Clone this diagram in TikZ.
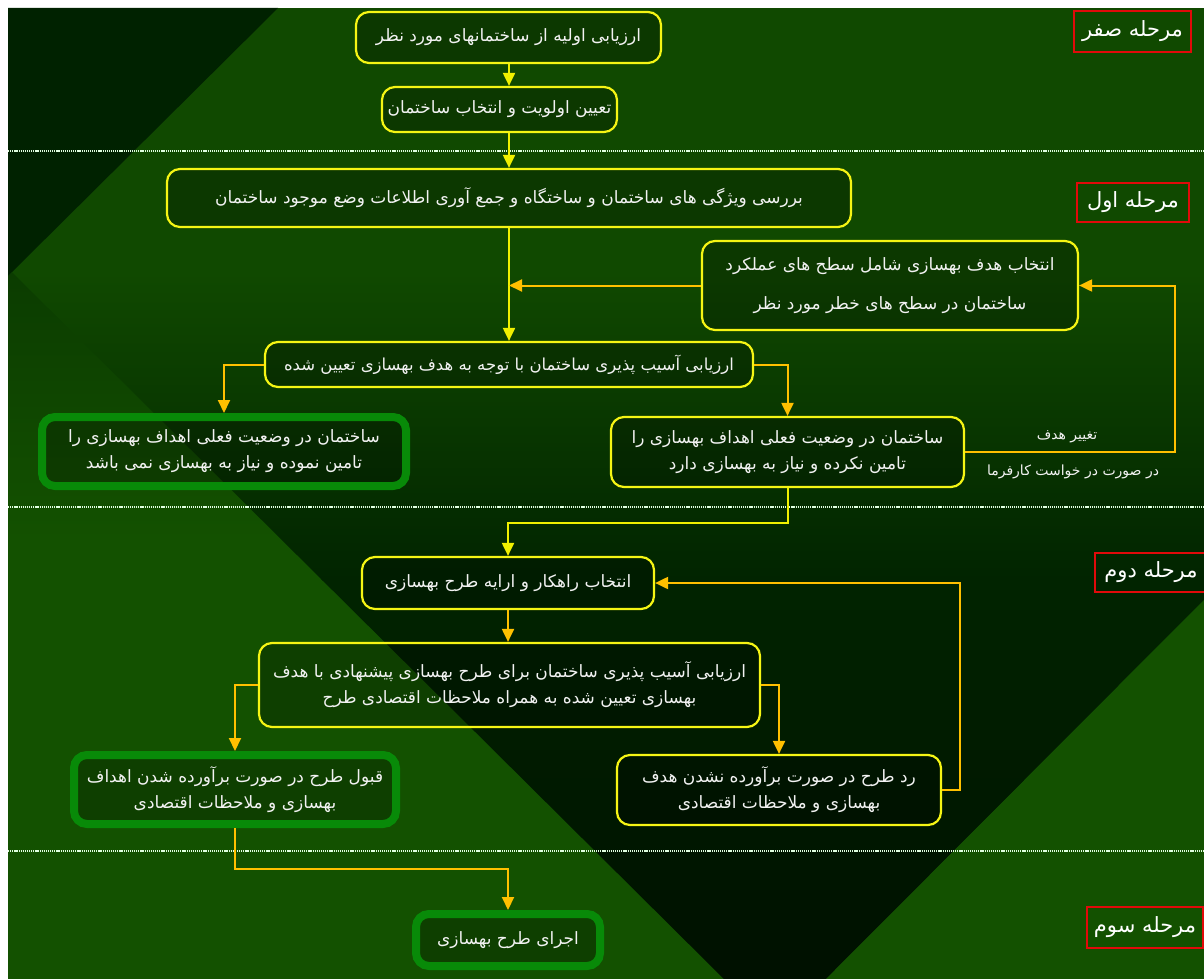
\documentclass[tikz,border=0pt]{standalone}
\usepackage{fontspec}
\usetikzlibrary{arrows.meta,calc}
\TeXXeTstate=1
\newfontfamily\fa[Script=Arabic]{DejaVu Sans}
\newcommand{\faline}[1]{\beginR #1\endR}

% background tones
\definecolor{bgbase}{RGB}{16,73,0}
\definecolor{bglight}{RGB}{19,81,0}
\definecolor{bgwedge}{RGB}{11,60,0}
\definecolor{bgcorner}{RGB}{0,34,0}
\definecolor{vdark}{RGB}{1,36,0}
\definecolor{vdarker}{RGB}{0,16,0}
% drawing tones
\definecolor{boxyellow}{RGB}{245,245,20}
\definecolor{boxgreen}{RGB}{8,138,8}
\definecolor{flowyellow}{RGB}{240,240,0}
\definecolor{flowgold}{RGB}{255,192,0}
\definecolor{stagered}{RGB}{225,10,10}
\definecolor{txt}{RGB}{242,242,242}

\tikzset{
  ybox/.style={draw=boxyellow, line width=2.2pt, rounded corners=13pt,
    fill=black, fill opacity=0.22, text opacity=1, text=txt,
    font=\fa\fontsize{17}{26}\selectfont, align=center, inner sep=0pt},
  gbox/.style={draw=boxgreen, line width=8pt, rounded corners=13pt,
    fill=black, fill opacity=0.22, text opacity=1, text=txt,
    font=\fa\fontsize{17}{26}\selectfont, align=center, inner sep=0pt},
  stage/.style={draw=stagered, line width=2pt, text=white,
    font=\fa\fontsize{21}{24}\selectfont, inner sep=0pt},
  note/.style={text=txt, font=\fa\fontsize{14}{16}\selectfont, inner sep=0pt},
  mainflow/.style={draw=flowyellow, line width=2pt,
    -{Triangle[length=13pt,width=12pt]}},
  sideflow/.style={draw=flowgold, line width=2pt,
    -{Triangle[length=13pt,width=12pt]}},
  separator/.style={draw=white!88!green, line width=2pt,
    dash pattern=on 1.2pt off 0.9pt},
}

\begin{document}
\begin{tikzpicture}[x=1pt,y=-1pt]
\useasboundingbox (0,0) rectangle (1204,979);
\fill[white] (0,0) rectangle (1204,979);

% ---------- background ----------
\fill[bgbase] (8,8) rectangle (1204,979);
\fill[bgcorner] (8,8) -- (278,8) -- (12,272) -- (8,276) -- cycle;
\begin{scope}
  \clip (8,276) -- (12,272) -- (724,979) -- (8,979) -- cycle;
  \shade[top color=bgwedge, bottom color=bglight] (8,272) rectangle (730,540);
  \fill[bglight] (8,539) rectangle (730,979);
\end{scope}
\begin{scope}
  \clip (12,272) -- (1204,272) -- (1204,600) -- (826,979) -- (724,979) -- cycle;
  \shade[top color=bgbase, bottom color=vdark] (0,272) rectangle (1204,580);
  \shade[top color=vdark, bottom color=vdarker] (0,579) rectangle (1204,979);
\end{scope}
\fill[bglight] (1204,600) -- (1204,979) -- (826,979) -- cycle;

% stage separators
\draw[separator] (8,151) -- (1204,151);
\draw[separator] (8,507) -- (1204,507);
\draw[separator] (8,851) -- (1204,851);

% ---------- guide coordinates ----------
\coordinate (spine) at (509,0);
\coordinate (loopD) at (1175,0);
\coordinate (loopH) at (960,0);
\coordinate (midGH) at (0,523);
\coordinate (midJL) at (0,869);

% ---------- stage 0 ----------
\node[ybox, minimum width=305pt, minimum height=51pt] (A) at (508.5,37.5)
  {\faline{ارزیابی اولیه از ساختمانهای مورد نظر}};
\node[ybox, minimum width=235pt, minimum height=45pt] (B) at (499.5,109.5)
  {\faline{تعیین اولویت و انتخاب ساختمان}};

% ---------- stage 1 ----------
\node[ybox, minimum width=684pt, minimum height=58pt] (C) at (509,198)
  {\faline{بررسی ویژگی های ساختمان و ساختگاه و جمع آوری اطلاعات وضع موجود ساختمان}};
\node[ybox, minimum width=376pt, minimum height=89pt,
      font=\fa\fontsize{17}{39}\selectfont] (D) at (890,285.5)
  {\faline{انتخاب هدف بهسازی شامل سطح های عملکرد}\\
   \faline{ساختمان در سطح های خطر مورد نظر}};
\node[ybox, minimum width=488pt, minimum height=45pt,
      font=\fa\fontsize{16.5}{26}\selectfont] (E) at (509,364.5)
  {\faline{ارزیابی آسیب پذیری ساختمان با توجه به هدف بهسازی تعیین شده}};
\node[gbox, minimum width=364pt, minimum height=69pt] (F) at (224,451.5)
  {\faline{ساختمان در وضعیت فعلی اهداف بهسازی را}\\
   \faline{تامین نموده  و نیاز به بهسازی نمی باشد}};
\node[ybox, minimum width=353pt, minimum height=70pt] (G) at (787.5,452)
  {\faline{ساختمان در  وضعیت فعلی اهداف بهسازی را}\\
   \faline{تامین نکرده و نیاز به بهسازی دارد}};
\node[note] (noteA) at (1067,437) {\faline{تغییر هدف}};
\node[note] (noteB) at (1073,472) {\faline{در صورت در خواست کارفرما}};

% ---------- stage 2 ----------
\node[ybox, minimum width=292pt, minimum height=52pt] (H) at (508,583)
  {\faline{انتخاب راهکار و ارایه طرح بهسازی}};
\node[ybox, minimum width=501pt, minimum height=84pt] (I) at (509.5,685)
  {\faline{ارزیابی آسیب پذیری ساختمان برای طرح بهسازی پیشنهادی با هدف}\\
   \faline{بهسازی تعیین شده به همراه ملاحظات اقتصادی طرح}};
\node[gbox, minimum width=322pt, minimum height=69pt] (J) at (235,789.5)
  {\faline{قبول طرح در صورت برآورده شدن اهداف}\\
   \faline{بهسازی و ملاحظات اقتصادی}};
\node[ybox, minimum width=324pt, minimum height=70pt] (K) at (779,790)
  {\faline{رد طرح در صورت برآورده نشدن هدف}\\
   \faline{بهسازی و ملاحظات اقتصادی}};

% ---------- stage 3 ----------
\node[gbox, minimum width=184pt, minimum height=52pt] (L) at (508,940)
  {\faline{اجرای طرح بهسازی}};

% ---------- stage labels ----------
\node[stage, minimum width=117pt, minimum height=41pt] (S0) at (1132.5,31.5)
  {\faline{مرحله صفر}};
\node[stage, minimum width=112pt, minimum height=39pt] (S1) at (1133,202.5)
  {\faline{مرحله اول}};
\node[stage, minimum width=112pt, minimum height=39pt] (S2) at (1151,572.5)
  {\faline{مرحله دوم}};
\node[stage, minimum width=116pt, minimum height=41pt] (S3) at (1145,927.5)
  {\faline{مرحله سوم}};

% ---------- connectors ----------
\draw[mainflow] (A.south -| spine) -- (B.north -| spine);
\draw[mainflow] (B.south -| spine) -- (C.north -| spine);
\draw[mainflow] (C.south) -- (E.north);
\draw[sideflow] (D.west) -- (D.west -| spine);
\draw[sideflow] (E.west) -| (F.north);
\draw[sideflow] (E.east) -| (G.north);
\draw[sideflow] (G.east) -| (D.east -| loopD) -- (D.east);
\draw[mainflow] (G.south) |- (H.north |- midGH) -- (H.north);
\draw[sideflow] (H.south) -- (H.south |- I.north);
\draw[sideflow] (I.west) -| (J.north);
\draw[sideflow] (I.east) -| (K.north);
\draw[sideflow] (K.east) -| (H.east -| loopH) -- (H.east);
\draw[sideflow] (J.south) |- (L.north |- midJL) -- (L.north);
\end{tikzpicture}
\end{document}
